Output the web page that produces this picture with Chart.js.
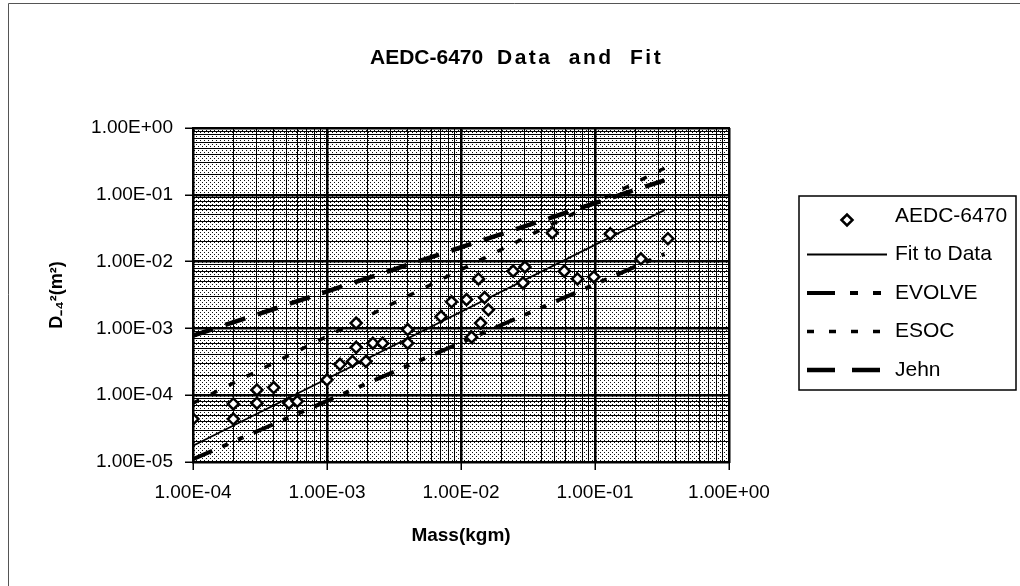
<!DOCTYPE html>
<html>
<head>
<style>
  body { margin: 0; background: #fff; }
</style>
</head>
<body>
<canvas id="myChart" width="1020" height="586"></canvas>
<script src="https://cdn.jsdelivr.net/npm/chart.js@4.4.0/dist/chart.umd.min.js"></script>
<script>
// measured points (mass in kg, D^2 in m^2)
const aedcMass = [1.0e-4, 2.0e-4, 2.0e-4, 3.0e-4, 3.0e-4, 4.0e-4, 5.2e-4, 6.0e-4, 1.0e-3, 1.25e-3, 1.55e-3, 1.95e-3,
                  1.65e-3, 2.2e-3, 2.6e-3, 4.0e-3, 1.65e-3, 4.0e-3, 7.1e-3, 8.5e-3, 1.1e-2, 1.5e-2, 1.6e-2, 1.4e-2,
                  1.2e-2, 1.35e-2, 2.45e-2, 3.0e-2, 2.9e-2, 4.8e-2, 5.9e-2, 7.4e-2, 9.8e-2, 1.3e-1, 2.2e-1, 3.5e-1];
const aedcD2   = [4.4e-5, 7.4e-5, 4.4e-5, 1.2e-4, 7.6e-5, 1.3e-4, 7.6e-5, 8.1e-5, 1.7e-4, 2.9e-4, 3.2e-4, 3.2e-4,
                  5.2e-4, 6.0e-4, 6.0e-4, 6.0e-4, 1.2e-3, 9.6e-4, 1.5e-3, 2.5e-3, 2.7e-3, 2.9e-3, 1.9e-3, 1.2e-3,
                  7.4e-4, 5.5e-3, 7.2e-3, 8.3e-3, 4.8e-3, 2.7e-2, 7.2e-3, 5.5e-3, 5.9e-3, 2.6e-2, 1.1e-2, 2.2e-2];

// model lines, end points of each straight (log-log) line
const lineMass = [1.0e-4, 3.3e-1];
const fitD2    = [1.75e-5, 5.9e-2];
const evolveD2 = [1.1e-5, 1.3e-2];
const esocD2   = [7.6e-5, 2.5e-1];
const jehnD2   = [7.8e-4, 1.65e-1];

const xTickValues = [1e-4, 1e-3, 1e-2, 1e-1, 1];
const xTickLabels = ['1.00E-04', '1.00E-03', '1.00E-02', '1.00E-01', '1.00E+00'];
const yTickValues = [1e-5, 1e-4, 1e-3, 1e-2, 1e-1, 1];
const yTickLabels = ['1.00E-05', '1.00E-04', '1.00E-03', '1.00E-02', '1.00E-01', '1.00E+00'];

const FONT = "'Liberation Sans', Arial, sans-serif";
Chart.defaults.font.family = FONT;
Chart.defaults.color = '#000';

function pairs(xs, ys) {
  return xs.map((x, i) => ({x: x, y: ys[i]}));
}
function isMajor(v) {
  const l = Math.log10(v);
  return Math.abs(l - Math.round(l)) < 1e-9;
}
function logTicks(values) {
  return function(scale) {
    const t = [];
    for (let i = 0; i < values.length - 1; i++) {
      for (let m = 1; m < 10; m++) t.push({value: m * values[i]});
    }
    t.push({value: values[values.length - 1]});
    scale.ticks = t;
  };
}
function tickLabel(values, labels) {
  return function(value) {
    const i = values.indexOf(value);
    return i >= 0 ? labels[i] : '';
  };
}
const gridOpts = {
  color: '#000',
  lineWidth: c => (c.tick && isMajor(c.tick.value)) ? 2.5 : 1,
  tickLength: 8,
  tickWidth: 1.5,
  tickColor: c => (c.tick && isMajor(c.tick.value)) ? '#000' : 'rgba(0,0,0,0)'
};

// dotted fill of the plot area
const dots = document.createElement('canvas');
dots.width = 4; dots.height = 4;
(function() {
  const g = dots.getContext('2d');
  g.fillStyle = '#fff'; g.fillRect(0, 0, 4, 4);
  g.fillStyle = '#111'; g.fillRect(0, 0, 1, 1); g.fillRect(2, 2, 1, 1);
})();

const backdrop = {
  id: 'backdrop',
  beforeDraw(chart) {
    const ctx = chart.ctx, a = chart.chartArea;
    ctx.save();
    ctx.fillStyle = '#fff';
    ctx.fillRect(0, 0, chart.width, chart.height);
    ctx.strokeStyle = '#555'; ctx.lineWidth = 1;
    ctx.beginPath();
    ctx.moveTo(8.5, chart.height); ctx.lineTo(8.5, 3.5); ctx.lineTo(chart.width, 3.5);
    ctx.stroke();
    ctx.fillStyle = ctx.createPattern(dots, 'repeat');
    ctx.fillRect(a.left, a.top, a.right - a.left, a.bottom - a.top);
    // title
    ctx.fillStyle = '#000';
    ctx.font = 'bold 21px ' + FONT;
    ctx.textAlign = 'left';
    ctx.textBaseline = 'middle';
    ctx.fillText('AEDC-6470', 370, 58);
    ctx.letterSpacing = '2.5px';
    ctx.wordSpacing = '8px';
    ctx.fillText('Data and Fit', 497, 58);
    ctx.restore();
  },
  afterDraw(chart) {
    const ctx = chart.ctx, a = chart.chartArea;
    ctx.save();
    ctx.strokeStyle = '#000'; ctx.lineWidth = 2;
    ctx.strokeRect(a.left, a.top, a.right - a.left, a.bottom - a.top);
    ctx.restore();
  }
};

// legend with a frame, drawn from the datasets
const boxLegend = {
  id: 'boxLegend',
  afterDraw(chart) {
    const ctx = chart.ctx;
    const left = 799, top = 196, width = 217, rowH = 38.5;
    const sets = chart.data.datasets;
    ctx.save();
    ctx.strokeStyle = '#000'; ctx.lineWidth = 1.5;
    ctx.strokeRect(left, top, width, 194);
    ctx.font = '21px ' + FONT;
    ctx.textBaseline = 'middle';
    ctx.textAlign = 'left';
    sets.forEach((ds, i) => {
      const y = top + 20 + i * rowH;
      ctx.strokeStyle = '#000';
      if (ds.showLine) {
        ctx.lineWidth = ds.borderWidth;
        ctx.setLineDash(ds.legendDash || []);
        ctx.beginPath(); ctx.moveTo(807, y); ctx.lineTo(887, y); ctx.stroke();
        ctx.setLineDash([]);
      } else {
        ctx.fillStyle = '#fff';
        ctx.lineWidth = ds.pointBorderWidth;
        Chart.helpers.drawPoint(ctx, {pointStyle: ds.pointStyle, radius: ds.pointRadius, borderWidth: ds.pointBorderWidth, rotation: 0}, 847, y + 4);
      }
      ctx.fillStyle = '#000';
      ctx.fillText(ds.label, 895, y);
    });
    ctx.restore();
  }
};

new Chart('myChart', {
  type: 'scatter',
  data: {
    datasets: [
      { label: 'AEDC-6470', data: pairs(aedcMass, aedcD2), pointStyle: 'rectRot', pointRadius: 5.5,
        pointBorderWidth: 2.5, pointBackgroundColor: '#fff', pointBorderColor: '#000' },
      { label: 'Fit to Data', data: pairs(lineMass, fitD2), showLine: true, pointRadius: 0,
        borderColor: '#000', borderWidth: 1.8 },
      { label: 'EVOLVE', data: pairs(lineMass, evolveD2), showLine: true, pointRadius: 0,
        borderColor: '#000', borderWidth: 4, borderDash: [21, 11, 6, 11, 6, 11],
        legendDash: [28, 15, 8, 15, 8, 15] },
      { label: 'ESOC', data: pairs(lineMass, esocD2), showLine: true, pointRadius: 0,
        borderColor: '#000', borderWidth: 3.5, borderDash: [7, 13], legendDash: [7, 15] },
      { label: 'Jehn', data: pairs(lineMass, jehnD2), showLine: true, pointRadius: 0,
        borderColor: '#000', borderWidth: 4.5, borderDash: [21, 13], legendDash: [28, 17] }
    ]
  },
  options: {
    responsive: false,
    animation: false,
    devicePixelRatio: 1,
    layout: { padding: { top: 128, right: 291, bottom: 0, left: 0 } },
    plugins: { legend: { display: false }, tooltip: { enabled: false } },
    scales: {
      x: {
        type: 'logarithmic', min: 1e-4, max: 1,
        afterBuildTicks: logTicks(xTickValues),
        afterFit: s => { s.height = 124; },
        ticks: { autoSkip: false, maxRotation: 0, minRotation: 0, padding: 11,
                 font: { size: 19 }, callback: tickLabel(xTickValues, xTickLabels) },
        grid: gridOpts,
        border: { color: '#000', width: 2 },
        title: { display: true, text: 'Mass(kgm)', font: { size: 19, weight: 'bold' },
                 padding: { top: 0, bottom: 39 } }
      },
      y: {
        type: 'logarithmic', min: 1e-5, max: 1,
        afterBuildTicks: logTicks(yTickValues),
        afterFit: s => { s.width = 193; },
        ticks: { autoSkip: false, padding: 12, font: { size: 19 },
                 callback: tickLabel(yTickValues, yTickLabels) },
        grid: gridOpts,
        border: { color: '#000', width: 2 },
        title: { display: true, text: 'D\u208B\u2084\u00B2(m\u00B2)', font: { size: 18, weight: 'bold' },
                 padding: { top: 46, bottom: 0 } }
      }
    }
  },
  plugins: [backdrop, boxLegend]
});
</script>
</body>
</html>
